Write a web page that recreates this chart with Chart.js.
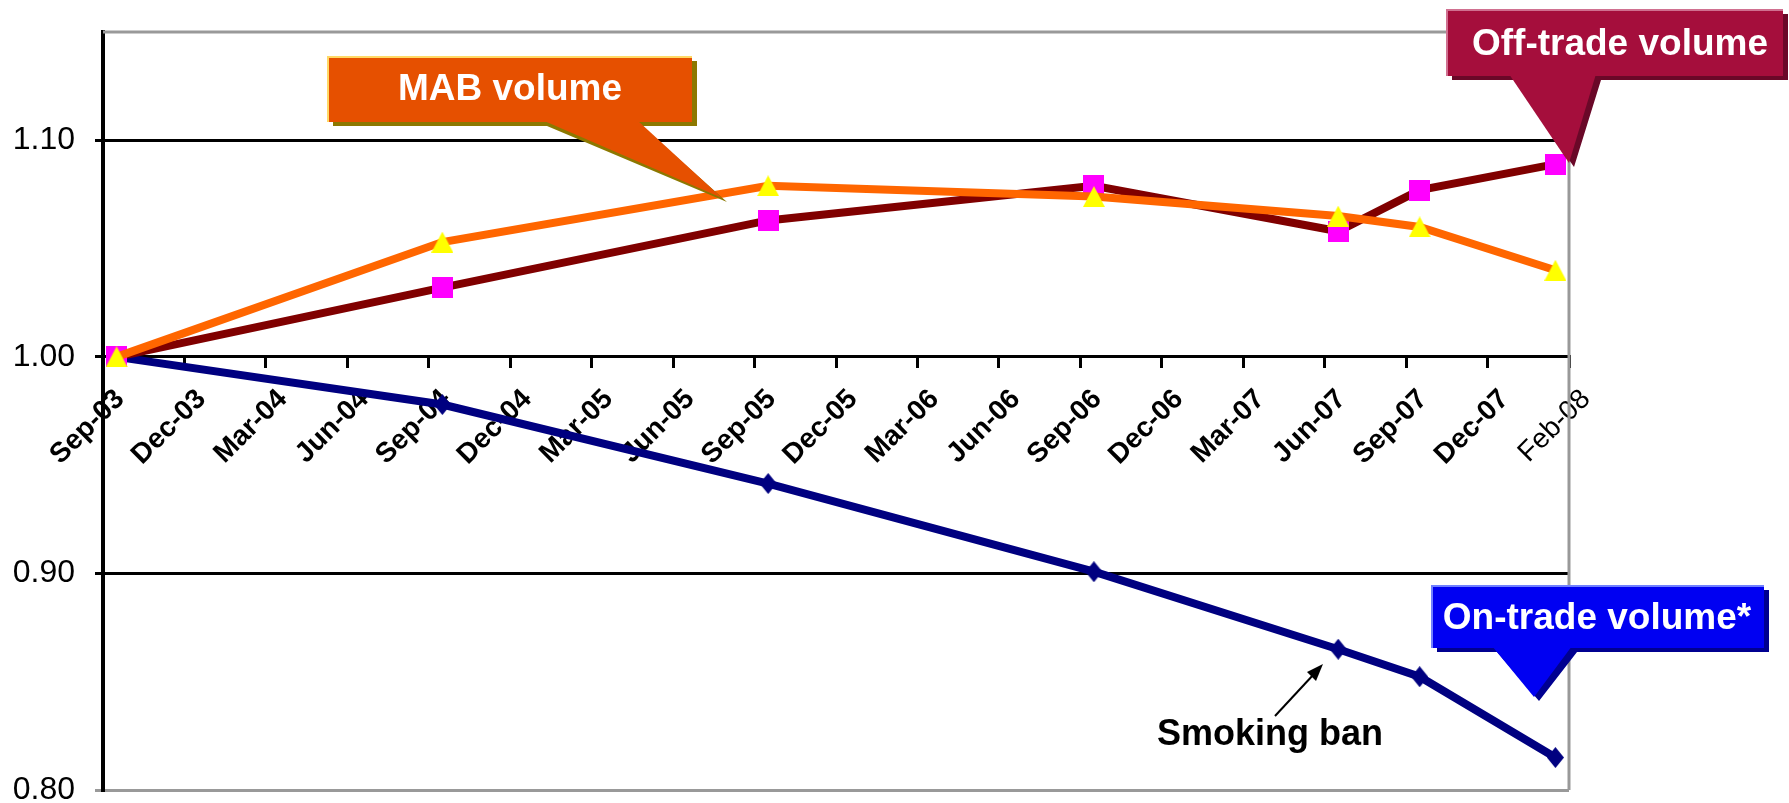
<!DOCTYPE html>
<html>
<head>
<meta charset="utf-8">
<script src="https://cdn.jsdelivr.net/npm/chart.js@4.4.0/dist/chart.umd.min.js"></script>
<style>
  html, body { margin: 0; padding: 0; background: #fff; }
  #wrap { width: 1789px; height: 803px; }
</style>
</head>
<body>
<div id="wrap"><canvas id="volChart" width="1789" height="803"></canvas></div>
<script>
// quarterly axis labels (last one is the Feb-08 end point)
const tickLabels = ["Sep-03", "Dec-03", "Mar-04", "Jun-04", "Sep-04", "Dec-04", "Mar-05", "Jun-05", "Sep-05",
  "Dec-05", "Mar-06", "Jun-06", "Sep-06", "Dec-06", "Mar-07", "Jun-07", "Sep-07", "Dec-07", "Feb-08"];
const pointDates = ["Sep-03", "Sep-04", "Sep-05", "Sep-06", "Jun-07", "Sep-07", "Feb-08"];
const pointMonths = [0, 12, 24, 36, 45, 48, 53]; // months after Sep-03
const mabVolume = [1.00, 1.053, 1.079, 1.074, 1.065, 1.060, 1.040];
const offTradeVolume = [1.00, 1.032, 1.063, 1.079, 1.058, 1.077, 1.089];
const onTradeVolume = [1.00, 0.978, 0.9415, 0.9008, 0.865, 0.8523, 0.815];
const yTicks = [0.80, 0.90, 1.00, 1.10];

Chart.defaults.font.family = '"Liberation Sans", Arial, sans-serif';
Chart.defaults.color = '#000';

// points sit in the middle of their month slot
function toPoints(values) {
  return values.map((v, i) => ({x: pointMonths[i] + 0.5, y: v, date: pointDates[i]}));
}

function marker(shape, w, h, fill) {
  const c = document.createElement('canvas');
  c.width = w; c.height = h;
  const g = c.getContext('2d');
  g.fillStyle = fill;
  g.beginPath();
  if (shape === 'triangle') {
    g.moveTo(w / 2, 0); g.lineTo(w, h); g.lineTo(0, h);
  } else if (shape === 'diamond') {
    g.moveTo(w / 2, 0); g.lineTo(w, h / 2); g.lineTo(w / 2, h); g.lineTo(0, h / 2);
  } else {
    g.rect(0, 0, w, h);
  }
  g.closePath();
  g.fill();
  return c;
}

function drawCallout(ctx, o) {
  const [bx, by, bw, bh] = o.box;
  ctx.save();
  // shadow
  ctx.fillStyle = o.shadow;
  ctx.beginPath();
  ctx.rect(bx + 5, by + 4, bw, bh);
  ctx.moveTo(o.tail[0][0] + 5, o.tail[0][1] + 4);
  ctx.lineTo(o.tail[2][0] + 5, o.tail[2][1] + 4);
  ctx.lineTo(o.tail[1][0] + 5, o.tail[1][1] + 4);
  ctx.closePath();
  ctx.fill();
  ctx.fillStyle = o.fill;
  ctx.beginPath();
  ctx.rect(bx, by, bw, bh);
  ctx.fill();
  ctx.beginPath();
  ctx.moveTo(o.tail[0][0], o.tail[0][1] - 2);
  ctx.lineTo(o.tail[2][0], o.tail[2][1]);
  ctx.lineTo(o.tail[1][0], o.tail[1][1] - 2);
  ctx.closePath();
  ctx.fill();
  ctx.strokeStyle = o.light;
  ctx.lineWidth = 2;
  ctx.beginPath();
  ctx.moveTo(bx, by + bh);
  ctx.lineTo(bx, by);
  ctx.lineTo(bx + bw, by);
  ctx.stroke();
  ctx.fillStyle = '#fff';
  ctx.font = 'bold 37px "Liberation Sans", Arial, sans-serif';
  ctx.textAlign = 'center';
  ctx.textBaseline = 'middle';
  ctx.fillText(o.text, o.tx, o.ty);
  ctx.restore();
}

const frame = {
  id: 'frame',
  beforeDatasetsDraw(chart) {
    const {ctx, chartArea: a} = chart;
    ctx.save();
    ctx.strokeStyle = '#999';
    ctx.lineWidth = 3;
    ctx.beginPath();
    ctx.moveTo(a.left, a.top);
    ctx.lineTo(a.right, a.top);
    ctx.lineTo(a.right, a.bottom);
    ctx.stroke();
    ctx.restore();
  }
};

const notes = {
  id: 'notes',
  afterDraw(chart) {
    const ctx = chart.ctx;
    drawCallout(ctx, {box: [328, 57, 364, 65], tail: [[542, 122], [637, 122], [722, 198]],
      fill: '#E65000', shadow: '#8C7800', light: '#FFD966', text: 'MAB volume', tx: 510, ty: 90});
    drawCallout(ctx, {box: [1447, 10, 336, 66], tail: [[1509, 76], [1596, 76], [1569, 163]],
      fill: '#A50E3C', shadow: '#6A0828', light: '#D07090', text: 'Off-trade volume', tx: 1620, ty: 45});
    drawCallout(ctx, {box: [1432, 586, 332, 62], tail: [[1492, 648], [1572, 648], [1534, 697]],
      fill: '#0000F2', shadow: '#000090', light: '#7080FF', text: 'On-trade volume*', tx: 1597, ty: 619});

    // smoking ban note with arrow
    ctx.save();
    ctx.fillStyle = '#000';
    ctx.font = 'bold 36px "Liberation Sans", Arial, sans-serif';
    ctx.textAlign = 'left';
    ctx.textBaseline = 'alphabetic';
    ctx.fillText('Smoking ban', 1157, 745);
    ctx.strokeStyle = '#000';
    ctx.lineWidth = 2;
    ctx.beginPath();
    ctx.moveTo(1275, 716);
    ctx.lineTo(1314, 674);
    ctx.stroke();
    ctx.beginPath();
    ctx.moveTo(1323, 664);
    ctx.lineTo(1307, 672);
    ctx.lineTo(1316, 681);
    ctx.closePath();
    ctx.fill();
    ctx.restore();
  }
};

const data = {
  datasets: [
    {
      label: 'MAB volume',
      data: toPoints(mabVolume),
      borderColor: '#FF6600',
      backgroundColor: '#FFFF00',
      borderWidth: 8,
      pointStyle: marker('triangle', 22, 21, '#FFFF00'),
    },
    {
      label: 'Off-trade volume',
      data: toPoints(offTradeVolume),
      borderColor: '#800000',
      backgroundColor: '#FF00FF',
      borderWidth: 8,
      pointStyle: marker('rect', 21, 21, '#FF00FF'),
    },
    {
      label: 'On-trade volume*',
      data: toPoints(onTradeVolume),
      borderColor: '#000080',
      backgroundColor: '#000080',
      borderWidth: 8,
      pointStyle: marker('diamond', 17, 21, '#000080'),
    },
  ],
};

const config = {
  type: 'line',
  data: data,
  options: {
    responsive: false,
    animation: false,
    layout: {padding: {top: 32, right: 220, bottom: 13, left: 0}, autoPadding: false},
    plugins: {legend: {display: false}, tooltip: {enabled: false}},
    elements: {line: {tension: 0}, point: {radius: 10}},
    scales: {
      x: {
        type: 'linear',
        position: {y: 1.0},
        min: 0,
        max: 54,
        afterBuildTicks: s => { s.ticks = tickLabels.map((_, i) => ({value: i * 3})); },
        afterFit: s => { s.paddingLeft = 0; s.paddingRight = 0; s.paddingTop = 0; s.paddingBottom = 0; },
        ticks: {
          autoSkip: false,
          minRotation: 45,
          maxRotation: 45,
          labelOffset: 17,
          padding: 16,
          color: '#000',
          font: c => (c.index === tickLabels.length - 1 ? {size: 28, weight: 'normal'} : {size: 28, weight: 'bold'}),
          callback: (v, i) => tickLabels[i],
        },
        grid: {drawOnChartArea: false, drawTicks: true, tickLength: 10, color: '#000', lineWidth: 3},
        border: {display: true, color: '#000', width: 3},
      },
      y: {
        min: 0.8,
        max: 1.15,
        afterBuildTicks: s => { s.ticks = yTicks.map(v => ({value: v})); },
        afterFit: s => { s.width = 103; s.paddingTop = 0; s.paddingBottom = 0; },
        ticks: {padding: 20, color: '#000', font: {size: 32}, callback: v => v.toFixed(2)},
        grid: {color: c => (c.tick && c.tick.value <= 0.8 ? '#999' : '#000'), lineWidth: 3, tickLength: 8},
        border: {color: '#000', width: 4},
      },
    },
  },
  plugins: [frame, notes],
};

let ctx = document.getElementById('volChart');
const volChart = new Chart(ctx, config);
</script>
</body>
</html>
